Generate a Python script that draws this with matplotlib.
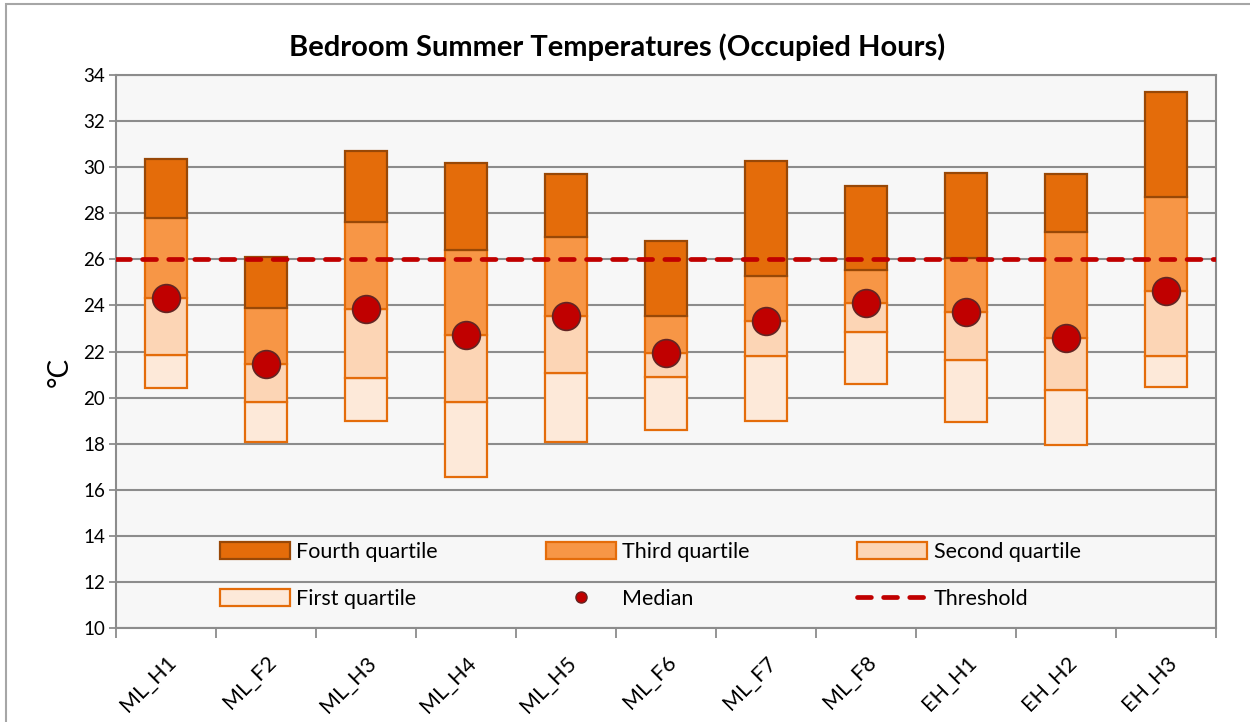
import matplotlib
matplotlib.use("Agg")
import matplotlib.pyplot as plt
from matplotlib.patches import Patch, Rectangle
from matplotlib.lines import Line2D
import numpy as np

plt.rcParams['font.family'] = ['Lato', 'DejaVu Sans']
plt.rcParams['lines.scale_dashes'] = False

categories = ["ML_H1", "ML_F2", "ML_H3", "ML_H4", "ML_H5", "ML_F6",
              "ML_F7", "ML_F8", "EH_H1", "EH_H2", "EH_H3"]
mins    = [20.40, 18.08, 18.97, 16.57, 18.06, 18.58, 18.97, 20.59, 18.92, 17.96, 20.46]
q1      = [21.84, 19.81, 20.85, 19.81, 21.07, 20.88, 21.81, 22.85, 21.64, 20.35, 21.82]
medians = [24.34, 21.46, 23.85, 22.72, 23.56, 21.94, 23.34, 24.11, 23.72, 22.60, 24.63]
q3      = [27.81, 23.90, 27.62, 26.41, 26.95, 23.56, 25.29, 25.52, 26.07, 27.19, 28.71]
maxs    = [30.37, 26.09, 30.72, 30.20, 29.70, 26.81, 30.27, 29.20, 29.75, 29.69, 33.26]
threshold = 26
yticks = list(range(10, 35, 2))

mins_a, q1_a, med_a, q3_a, max_a = map(np.array, (mins, q1, medians, q3, maxs))

fig = plt.figure(figsize=(12.5, 7.22), dpi=100)
ax = fig.add_axes([116/1250, 1-628/722, 1100/1250, 553/722])
ax.set_facecolor('#F7F7F7')

x = np.arange(len(categories))
w = 0.42
grid_c = '#8C8C8C'
orange_edge = '#E46C0A'
dash_pat = (10.0, 8.8)

ax.bar(x, q1_a - mins_a, bottom=mins_a, width=w, color='#FDE9D9',
       edgecolor=orange_edge, linewidth=1.6, zorder=3)
ax.bar(x, med_a - q1_a, bottom=q1_a, width=w, color='#FCD5B5',
       edgecolor=orange_edge, linewidth=1.6, zorder=3)
ax.bar(x, q3_a - med_a, bottom=med_a, width=w, color='#F79646',
       edgecolor=orange_edge, linewidth=1.6, zorder=3)
ax.bar(x, max_a - q3_a, bottom=q3_a, width=w, color='#E46C0A',
       edgecolor='#984807', linewidth=1.6, zorder=4)

ax.axhline(threshold, color='#C00000', linewidth=3.4, dashes=dash_pat,
           dash_capstyle='round', zorder=5)
ax.scatter(x, med_a, s=400, color='#C00000', edgecolor='#632523',
           linewidth=1.2, zorder=6)

ax.set_xlim(-0.5, len(categories) - 0.5)
ax.set_ylim(10, 34)
ax.set_yticks(yticks)
ax.set_yticklabels([str(t) for t in yticks], fontsize=13.5)
ax.yaxis.grid(True, color=grid_c, linewidth=1.5, zorder=0)
ax.set_axisbelow(True)

ax.set_xticks(x)
ax.set_xticklabels(categories, rotation=45, ha='right', va='top',
                   rotation_mode='anchor', fontsize=15.5)
ax.set_xticks(np.arange(-0.5, len(categories)), minor=True)
ax.tick_params(axis='x', which='major', length=0, pad=17.5)
ax.tick_params(axis='x', which='minor', length=7, width=1.3, color=grid_c, direction='out')
ax.tick_params(axis='y', length=5, width=1.3, color=grid_c, direction='out', pad=3)
for s in ax.spines.values():
    s.set_color(grid_c)
    s.set_linewidth(1.5)

ax.set_ylabel('°C', fontsize=20)
ax.yaxis.set_label_coords((73-116)/1100, (628-372)/553)

fig.text(617/1250, 1-47/722, 'Bedroom Summer Temperatures (Occupied Hours)',
         ha='center', va='center', fontsize=21, fontweight='bold')

h4 = Patch(facecolor='#E46C0A', edgecolor='#984807', linewidth=1.6)
h3 = Patch(facecolor='#F79646', edgecolor=orange_edge, linewidth=1.6)
h2 = Patch(facecolor='#FCD5B5', edgecolor=orange_edge, linewidth=1.6)
h1 = Patch(facecolor='#FDE9D9', edgecolor=orange_edge, linewidth=1.6)
hm = Line2D([], [], marker='o', linestyle='none', markersize=8,
            markerfacecolor='#C00000', markeredgecolor='#632523')
ht = Line2D([], [], color='#C00000', linewidth=3.4, dashes=dash_pat,
            dash_capstyle='round')
handles = [h4, h1, h3, hm, h2, ht]
labels = ['Fourth quartile', 'First quartile', 'Third quartile', 'Median',
          'Second quartile', 'Threshold']
leg = ax.legend(handles, labels, ncol=3, loc='center left',
                bbox_to_anchor=((220-116)/1100, (628-575.5)/553),
                frameon=False, fontsize=15.5, handlelength=3.25, handleheight=0.8,
                handletextpad=0.3, columnspacing=5.0, labelspacing=1.25,
                borderpad=0, borderaxespad=0)

fig.patches.append(Rectangle((6/1250, -0.05), 1.1, 1 - 4/722 + 0.05,
                             transform=fig.transFigure, fill=False,
                             edgecolor='#A6A6A6', linewidth=1.5))

fig.savefig('out.png', dpi=100)
